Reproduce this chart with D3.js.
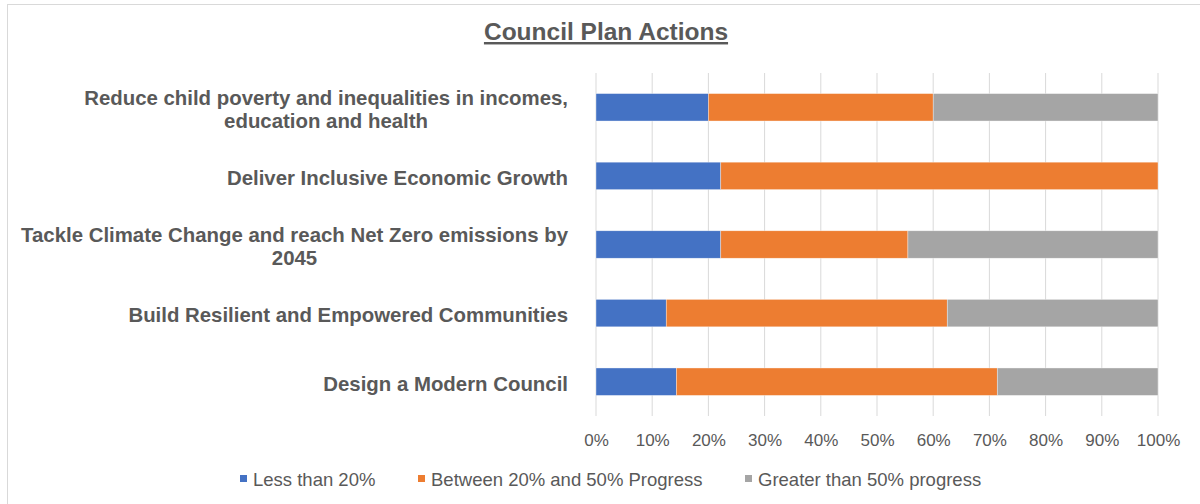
<!DOCTYPE html>
<meta charset="utf-8">
<style>
  body { margin: 0; background: #fff; }
  text { font-family: "Liberation Sans", Arial, sans-serif; fill: #595959; }
</style>
<script src="https://d3js.org/d3.v7.min.js"></script>
<body>
<svg id="chart" width="1200" height="504"></svg>
<script>
// categories, top to bottom (each entry is the wrapped lines of the label)
const categories = [
  ["Reduce child poverty and inequalities in incomes,", "education and health"],
  ["Deliver Inclusive Economic Growth"],
  ["Tackle Climate Change and reach Net Zero emissions by", "2045"],
  ["Build Resilient and Empowered Communities"],
  ["Design a Modern Council"]
];
const seriesNames = ["Less than 20%", "Between 20% and 50% Progress", "Greater than 50% progress"];
const lessThan20 = [20.0, 22.2, 22.2, 12.5, 14.3];
const between20and50 = [40.0, 77.8, 33.3, 50.0, 57.1];
const greaterThan50 = [40.0, 0.0, 44.5, 37.5, 28.6];
const xTicks = [0, 10, 20, 30, 40, 50, 60, 70, 80, 90, 100];
const colors = ["#4472C4", "#ED7D31", "#A5A5A5"];

const svg = d3.select("#chart");

// chart frame
svg.append("rect")
  .attr("x", 7.5).attr("y", 4.5)
  .attr("width", 1200).attr("height", 520)
  .attr("fill", "none").attr("stroke", "#d9d9d9");

// title
svg.append("text")
  .attr("x", 606).attr("y", 40)
  .attr("text-anchor", "middle")
  .style("font-size", "24.5px").style("font-weight", "bold")
  .style("text-decoration", "underline")
  .text("Council Plan Actions");

const plotLeft = 596, plotRight = 1158, plotTop = 73, plotBottom = 416;

const x = d3.scaleLinear().domain([0, 100]).range([plotLeft, plotRight]);
const y = d3.scaleBand().domain(d3.range(categories.length)).range([plotTop, plotBottom]).paddingInner(0.6).paddingOuter(0.3);

// gridlines
svg.append("g")
  .selectAll("line")
  .data(xTicks)
  .join("line")
  .attr("x1", d => x(d)).attr("x2", d => x(d))
  .attr("y1", plotTop).attr("y2", plotBottom)
  .attr("stroke", "#d9d9d9").attr("stroke-width", 1);

// x axis labels
const xAxis = svg.append("g")
  .attr("transform", `translate(0, ${plotBottom})`)
  .call(d3.axisBottom(x).tickValues(xTicks).tickFormat(d => d + "%").tickSize(0).tickPadding(18));
xAxis.select(".domain").remove();
xAxis.selectAll("text")
  .style("font-size", "17px")
  .style("font-family", "'Liberation Sans', Arial, sans-serif")
  .attr("fill", "#595959");

// stacked bars
const rows = categories.map((c, i) => ({ i, vals: [lessThan20[i], between20and50[i], greaterThan50[i]] }));
const stack = d3.stack().keys([0, 1, 2]).value((d, k) => d.vals[k]);
const layers = stack(rows);

svg.append("g")
  .selectAll("g")
  .data(layers)
  .join("g")
  .attr("fill", (d, k) => colors[k])
  .selectAll("rect")
  .data(d => d)
  .join("rect")
  .attr("x", d => x(d[0]))
  .attr("y", d => y(d.data.i))
  .attr("width", d => x(d[1]) - x(d[0]))
  .attr("height", y.bandwidth())
  .attr("stroke", "#ffffff").attr("stroke-width", 0.6)
  .attr("stroke-opacity", 0.6);

// category labels: block right-aligned, lines centered within the block
const labelRight = 568, lineH = 23;
const labelG = svg.append("g");
categories.forEach((lines, i) => {
  const cy = y(i) + y.bandwidth() / 2;
  const g = labelG.append("g");
  const texts = lines.map((ln, j) => g.append("text")
    .style("font-size", "20.4px").style("font-weight", "bold")
    .attr("y", cy + (j - (lines.length - 1) / 2) * lineH + 9)
    .text(ln));
  const widths = texts.map(t => t.node().getComputedTextLength());
  const maxW = d3.max(widths);
  const centre = labelRight - maxW / 2;
  texts.forEach(t => t.attr("x", centre).attr("text-anchor", "middle"));
});

// legend
const legendX = [240, 418, 745];
const legend = svg.append("g");
seriesNames.forEach((name, k) => {
  legend.append("rect")
    .attr("x", legendX[k]).attr("y", 475)
    .attr("width", 7).attr("height", 7)
    .attr("fill", colors[k]);
  legend.append("text")
    .attr("x", legendX[k] + 13).attr("y", 485.5)
    .style("font-size", "18.5px")
    .text(name);
});
</script>
</body>
